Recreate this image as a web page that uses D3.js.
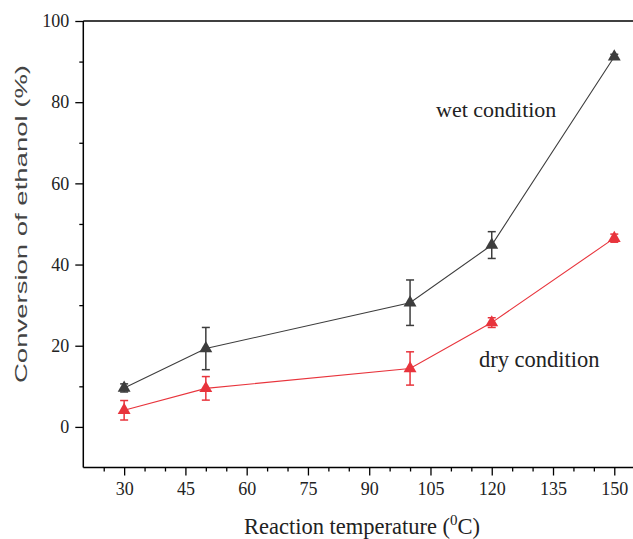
<!DOCTYPE html>
<html><head><meta charset="utf-8">
<script src="https://cdn.jsdelivr.net/npm/d3@7"></script>
<style>body{margin:0;background:#fff}svg{display:block}
.serif{font-family:"Liberation Serif","DejaVu Serif","Times New Roman",serif}
.sans{font-family:"Liberation Sans",Arial,sans-serif}
</style>
</head><body>
<svg id="c" width="633" height="539"></svg>
<script>
const temps = [30, 50, 100, 120, 150];
const wetValues = [9.6, 19.3, 30.6, 44.8, 91.2];
const wetErrors = [1.0, 5.2, 5.6, 3.3, 0.6];
const dryValues = [4.1, 9.5, 14.4, 25.7, 46.5];
const dryErrors = [2.4, 2.9, 4.1, 1.2, 1.0];
const xTicks = [30, 45, 60, 75, 90, 105, 120, 135, 150];
const yTicks = [0, 20, 40, 60, 80, 100];

const svg = d3.select("#c");
const x = d3.scaleLinear().domain([20, 155]).range([83.3, 634.7]);
const y = d3.scaleLinear().domain([-10, 100]).range([467.5, 21]);

// top frame line
svg.append("line").attr("x1", x(20)).attr("x2", 633).attr("y1", y(100)).attr("y2", y(100)).attr("stroke", "#000").attr("stroke-width", 1.5);

// x axis
const xMinor = d3.range(25, 155, 5).filter(v => v % 15 !== 0);
const gx = svg.append("g").attr("transform", `translate(0,${y(-10)})`);
gx.call(d3.axisBottom(x).tickValues(xMinor).tickSize(4).tickFormat(""));
gx.call(g => g.select(".domain").remove());
const gx2 = svg.append("g").attr("transform", `translate(0,${y(-10)})`);
gx2.call(d3.axisBottom(x).tickValues(xTicks).tickSize(8).tickPadding(7).tickSizeOuter(0));
gx2.attr("font-family", null).attr("font-size", null).attr("class", "serif");
gx2.selectAll("text").attr("font-size", 18).attr("fill", "#222");

// y axis
const yMinor = d3.range(10, 100, 20);
const gy = svg.append("g").attr("transform", `translate(${x(20)},0)`);
gy.call(d3.axisLeft(y).tickValues(yMinor).tickSize(4).tickFormat(""));
gy.call(g => g.select(".domain").remove());
const gy2 = svg.append("g").attr("transform", `translate(${x(20)},0)`);
gy2.call(d3.axisLeft(y).tickValues(yTicks).tickSize(8).tickPadding(6).tickSizeOuter(0));
gy2.attr("font-family", null).attr("font-size", null).attr("class", "serif");
gy2.selectAll("text").attr("font-size", 18).attr("fill", "#222");
svg.selectAll("g line, g path").attr("stroke-width", 1.3);
gx2.select(".domain").attr("d", `M${x(20)},0H640`).attr("stroke-width", 1.5);
gy2.select(".domain").attr("d", `M0,${y(-10)}V${y(100)}`).attr("stroke-width", 1.5);

// series
const series = [
  {vals: wetValues, errs: wetErrors, color: "#3d3d3d"},
  {vals: dryValues, errs: dryErrors, color: "#e8343c"}
];
const line = d3.line().x(d => x(d[0])).y(d => y(d[1]));
series.forEach(s => {
  const pts = temps.map((t, i) => [t, s.vals[i], s.errs[i]]);
  svg.append("path").datum(pts).attr("d", line).attr("fill", "none").attr("stroke", s.color).attr("stroke-width", 1.1);
  const eg = svg.append("g").attr("stroke", s.color).attr("stroke-width", 1.5);
  pts.forEach(p => {
    const cx = x(p[0]), y1 = y(p[1] + p[2]), y2 = y(p[1] - p[2]);
    eg.append("line").attr("x1", cx).attr("x2", cx).attr("y1", y1).attr("y2", y2);
    eg.append("line").attr("x1", cx - 4).attr("x2", cx + 4).attr("y1", y1).attr("y2", y1);
    eg.append("line").attr("x1", cx - 4).attr("x2", cx + 4).attr("y1", y2).attr("y2", y2);
  });
  const sym = d3.symbol().type(d3.symbolTriangle).size(72);
  svg.append("g").selectAll("path").data(pts).join("path")
    .attr("d", sym).attr("transform", d => `translate(${x(d[0])},${y(d[1])})`)
    .attr("fill", s.color);
});

// annotations
svg.append("text").attr("class", "serif").attr("x", 436).attr("y", 117).attr("font-size", 22).attr("fill", "#222").text("wet condition");
svg.append("text").attr("class", "serif").attr("x", 479).attr("y", 367).attr("font-size", 22.5).attr("fill", "#222").text("dry condition");

// axis titles
const xt = svg.append("text").attr("class", "serif").attr("x", 362).attr("y", 534).attr("text-anchor", "middle").attr("font-size", 22.5).attr("fill", "#222");
xt.append("tspan").text("Reaction temperature (");
xt.append("tspan").attr("font-size", 15).attr("dy", -9).text("0");
xt.append("tspan").attr("dy", 9).text("C)");

svg.append("text").attr("class", "sans").attr("transform", "translate(27,224) rotate(-90)").attr("text-anchor", "middle")
  .attr("font-size", 17).attr("fill", "#444")
  .attr("textLength", 318).attr("lengthAdjust", "spacingAndGlyphs")
  .text("Conversion of ethanol (%)");
</script>
</body></html>
